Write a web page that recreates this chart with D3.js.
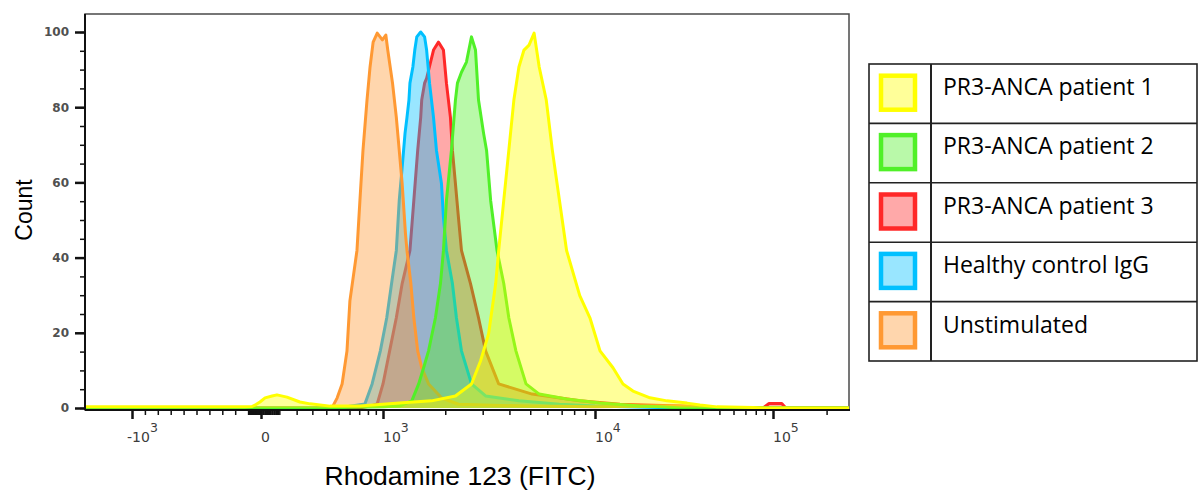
<!DOCTYPE html>
<html>
<head>
<meta charset="utf-8">
<script src="https://cdn.jsdelivr.net/npm/d3@7"></script>
<style>
  body { margin: 0; background: #fff; }
  svg { display: block; }
</style>
</head>
<body>
<script>
const width = 1200,
      height = 492;

// legend order, top to bottom
const seriesNames = ["PR3-ANCA patient 1", "PR3-ANCA patient 2", "PR3-ANCA patient 3",
                     "Healthy control IgG", "Unstimulated"];
const seriesColors = ["#ffff00", "#50f028", "#ff2828", "#00c0ff", "#ff9933"];

// histogram points, [Rhodamine 123 intensity, count]
const patient1 = [[-3000,0.3],[-124,0.3],[-70,0.4],[-39,0.9],[-8,1.6],[22,2.7],[60,3.2],[87,3.5],
  [143,2.9],[220,1.6],[285,1.1],[429,0.5],[708,0.5],[1203,1.3],[1721,1.9],[2234,3.2],[2658,6.4],
  [2931,12.5],[3196,19.7],[3450,33.1],[3564,41.9],[3763,55.2],[3973,68.5],[4195,81.9],[4428,90.7],
  [4675,95.2],[4935,96.5],[5212,99.7],[5504,90.7],[5937,81.9],[6337,68.5],[6838,55.2],[7378,41.9],
  [8496,29.9],[9470,24],[10670,15.2],[12620,10.7],[14360,6.4],[16350,4.5],[20370,2.7],[25380,1.9],
  [32880,1.3],[38900,0.8],[48470,0.3],[77200,0.1],[90000,0],[300000,0]];

const patient2 = [[-3000,0],[300,0],[1000,0.3],[1203,0.5],[1385,1.9],[1494,6.4],[1578,10.7],
  [1666,15.2],[1797,24],[1898,33.1],[1961,41.9],[2026,55.2],[2139,68.5],[2234,81.9],[2283,86.4],
  [2385,89.3],[2517,92],[2658,98.7],[2776,95.2],[2868,81.9],[3028,73.1],[3128,68.5],[3268,55.2],
  [3500,41.9],[3763,33.1],[3973,24],[4287,15.2],[4778,6.4],[5504,3.7],[7378,2.4],[10670,1.3],
  [17890,0.5],[23200,0.3],[30000,0],[300000,0]];

const patient3 = [[-3000,0],[700,0],[826,0.5],[919,1.1],[1000,6.4],[1079,15.2],[1164,24],
  [1243,33.1],[1356,41.9],[1416,55.2],[1478,68.5],[1528,77.3],[1545,81.9],[1595,86.4],[1631,87.7],
  [1759,95.2],[1857,97.3],[1961,95.2],[2026,86.4],[2116,77.3],[2162,68.5],[2234,59.7],[2308,50.7],
  [2385,41.9],[2630,33.1],[2868,24],[3095,15.2],[3564,6.4],[5100,3.7],[8496,1.9],[13820,1.0],
  [30030,0.5],[45000,0],[88000,0],[95000,1.2],[112000,1.2],[118000,0],[300000,0]];

const healthyIgG = [[-3000,0],[500,0],[604,0.5],[765,1.1],[852,6.4],[962,15.2],[1044,24],
  [1103,33.1],[1164,41.9],[1203,55.2],[1243,64],[1284,73.1],[1312,77.3],[1341,81.9],[1356,86.4],
  [1401,90.7],[1431,95.2],[1463,98.7],[1528,100],[1595,98.7],[1631,95.2],[1684,86.4],[1759,77.3],
  [1817,68.5],[1919,59.7],[1961,50.7],[2026,41.9],[2162,33.1],[2258,24],[2385,15.2],[2658,6.4],
  [3095,3.2],[4428,1.9],[6838,1.0],[10000,0.5],[30000,0],[300000,0]];

const unstimulated = [[-3000,0],[400,0],[452,0.5],[488,2.7],[531,6.4],[576,15.2],[604,28.5],
  [676,41.9],[708,55.2],[742,68.5],[789,81.9],[826,90.7],[865,97.3],[919,99.7],[991,97.9],
  [1033,99.2],[1056,95.2],[1115,86.4],[1164,77.3],[1203,68.5],[1243,59.7],[1290,46.4],[1312,41.9],
  [1370,33.1],[1416,24],[1478,15.2],[1545,10.7],[1666,6.4],[1919,2.7],[2308,1.0],[3000,0.8],
  [5000,0.5],[10000,0.3],[22000,0.5],[35000,0.5],[40000,0],[300000,0]];

// axis ticks
const xMajorTicks = [-1000, 0, 1000, 10000, 100000];
const xMajorLabels = [["-10", "3"], ["0", ""], ["10", "3"], ["10", "4"], ["10", "5"]];
const xMinorTicks = [].concat(d3.range(-900, 0, 100), d3.range(100, 1000, 100),
                              d3.range(2000, 10000, 1000), d3.range(20000, 100000, 10000), [200000]);
const xFineTicks = d3.range(-90, 100, 10);
const yMajorTicks = [0, 20, 40, 60, 80, 100];

const series = [patient1, patient2, patient3, healthyIgG, unstimulated];
// FlowJo layering: red at the back, yellow on top
const drawOrder = [2, 3, 4, 1, 0];

const plot = {left: 85, right: 849, top: 14, bottom: 410};

const svg = d3.select("body")
    .append("svg")
    .attr("width", width)
    .attr("height", height);

// biexponential-ish display: linear below zero, asinh above,
// piecewise linear between the decade marks
const W = 400;
const tfPos = v => Math.asinh(v / W) / Math.LN10;
const tf = v => v < 0 ? v / 1000 * tfPos(1000) : tfPos(v);
const xT = d3.scaleLinear()
    .domain(xMajorTicks.map(tf))
    .range([132, 261, 383, 595, 773]);
const x = v => xT(tf(v));

const y = d3.scaleLinear()
    .domain([0, 100])
    .range([408, 32]);

svg.append("defs").append("clipPath")
    .attr("id", "clip")
  .append("rect")
    .attr("x", plot.left)
    .attr("y", plot.top)
    .attr("width", plot.right - plot.left)
    .attr("height", plot.bottom - plot.top);

// frame
svg.append("rect")
    .attr("x", plot.left)
    .attr("y", plot.top)
    .attr("width", plot.right - plot.left)
    .attr("height", plot.bottom - plot.top)
    .attr("fill", "none")
    .attr("stroke", "#4a4a4a")
    .attr("stroke-width", 1.5);

const area = d3.area()
    .x(d => x(d[0]))
    .y0(y(0))
    .y1(d => y(d[1]));

const line = d3.line()
    .x(d => x(d[0]))
    .y(d => y(d[1]));

const histos = svg.append("g")
    .attr("clip-path", "url(#clip)");

drawOrder.forEach(i => {
  const g = histos.append("g");
  g.append("path")
      .datum(series[i])
      .attr("d", area)
      .attr("fill", seriesColors[i])
      .attr("fill-opacity", 0.4);
  g.append("path")
      .datum(series[i])
      .attr("d", line)
      .attr("fill", "none")
      .attr("stroke", seriesColors[i])
      .attr("stroke-width", 3)
      .attr("stroke-linejoin", "round");
});

// y axis
svg.append("g")
    .attr("transform", `translate(${plot.left},0)`)
    .call(d3.axisLeft(y).tickValues(d3.range(0, 101, 5)).tickSize(5).tickFormat(""))
    .call(g => g.select(".domain").remove())
    .selectAll("line").attr("stroke", "#111").attr("stroke-width", 1.5);

svg.append("g")
    .attr("transform", `translate(${plot.left},0)`)
    .call(d3.axisLeft(y).tickValues(yMajorTicks).tickSize(10).tickPadding(6))
    .call(g => g.select(".domain").remove())
    .call(g => g.selectAll("line").attr("stroke", "#111").attr("stroke-width", 2.5))
    .selectAll("text")
      .attr("font-family", "DejaVu Sans")
      .attr("font-weight", "bold")
      .attr("font-size", 12)
      .attr("fill", "#505050");

// x axis
const xAxisG = svg.append("g")
    .attr("transform", `translate(0,${plot.bottom})`);

xAxisG.append("g")
    .call(d3.axisBottom(xT).tickValues(xMinorTicks.map(tf)).tickSize(5).tickFormat(""))
    .call(g => g.select(".domain").remove())
    .selectAll("line").attr("stroke", "#111").attr("stroke-width", 1.5);

xAxisG.append("g")
    .call(d3.axisBottom(xT).tickValues(xFineTicks.map(tf)).tickSize(5).tickFormat(""))
    .call(g => g.select(".domain").remove())
    .selectAll("line").attr("stroke", "#111").attr("stroke-width", 2.2);

xAxisG.append("g")
    .call(d3.axisBottom(xT).tickValues(xMajorTicks.map(tf)).tickSize(9).tickFormat(""))
    .call(g => g.select(".domain").remove())
    .selectAll("line").attr("stroke", "#111").attr("stroke-width", 2.5);

const xLab = xAxisG.selectAll("text.xlab")
    .data(xMajorTicks)
    .enter().append("text")
      .attr("class", "xlab")
      .attr("x", (d, i) => x(d) + (d < 0 ? -5 : 0))
      .attr("y", 32)
      .style("font-family", "DejaVu Sans")
      .style("font-size", "14px")
      .attr("fill", "#3c3c3c");
xLab.append("tspan").text((d, i) => xMajorLabels[i][0]);
xLab.append("tspan")
    .attr("dy", -10)
    .style("font-size", "12.5px")
    .text((d, i) => xMajorLabels[i][1]);

// axis lines
svg.append("line")
    .attr("x1", plot.left).attr("x2", plot.left)
    .attr("y1", plot.top).attr("y2", plot.bottom)
    .attr("stroke", "#111").attr("stroke-width", 2);
svg.append("line")
    .attr("x1", plot.left).attr("x2", plot.right + 1)
    .attr("y1", plot.bottom).attr("y2", plot.bottom)
    .attr("stroke", "#111").attr("stroke-width", 2);

// axis titles
svg.append("text")
    .attr("transform", "translate(32,210) rotate(-90)")
    .attr("text-anchor", "middle")
    .attr("font-family", "Liberation Sans, Arial, sans-serif")
    .attr("font-size", 23)
    .attr("fill", "#000")
    .text("Count");

svg.append("text")
    .attr("x", 460)
    .attr("y", 485)
    .attr("text-anchor", "middle")
    .attr("font-family", "Liberation Sans, Arial, sans-serif")
    .attr("font-size", 26.5)
    .attr("fill", "#000")
    .text("Rhodamine 123 (FITC)");

// legend table
const leg = {left: 869, mid: 931, right: 1197, top: 64, bottom: 361};
const rowH = (leg.bottom - leg.top) / seriesNames.length;

const legend = svg.append("g").attr("class", "legend");

legend.selectAll("line.row")
    .data(d3.range(1, seriesNames.length))
    .enter().append("line")
      .attr("class", "row")
      .attr("x1", leg.left).attr("x2", leg.right)
      .attr("y1", d => leg.top + d * rowH)
      .attr("y2", d => leg.top + d * rowH)
      .attr("stroke", "#222").attr("stroke-width", 1.6);

legend.append("line")
    .attr("x1", leg.mid).attr("x2", leg.mid)
    .attr("y1", leg.top).attr("y2", leg.bottom)
    .attr("stroke", "#222").attr("stroke-width", 2);

legend.append("rect")
    .attr("x", leg.left).attr("y", leg.top)
    .attr("width", leg.right - leg.left)
    .attr("height", leg.bottom - leg.top)
    .attr("fill", "none")
    .attr("stroke", "#222").attr("stroke-width", 1.6);

legend.selectAll("rect.swatch")
    .data(seriesNames)
    .enter().append("rect")
      .attr("class", "swatch")
      .attr("x", 881)
      .attr("y", (d, i) => leg.top + i * rowH + rowH / 2 - 18)
      .attr("width", 34)
      .attr("height", 34)
      .attr("fill", (d, i) => d3.interpolateRgb("#fff", seriesColors[i])(0.4))
      .attr("stroke", (d, i) => seriesColors[i])
      .attr("stroke-width", 4.5);

legend.selectAll("text")
    .data(seriesNames)
    .enter().append("text")
      .attr("x", 943)
      .attr("y", (d, i) => leg.top + i * rowH + 31)
      .attr("font-family", "Open Sans, sans-serif")
      .attr("font-size", 23)
      .attr("fill", "#000")
      .text(d => d);
</script>
</body>
</html>
